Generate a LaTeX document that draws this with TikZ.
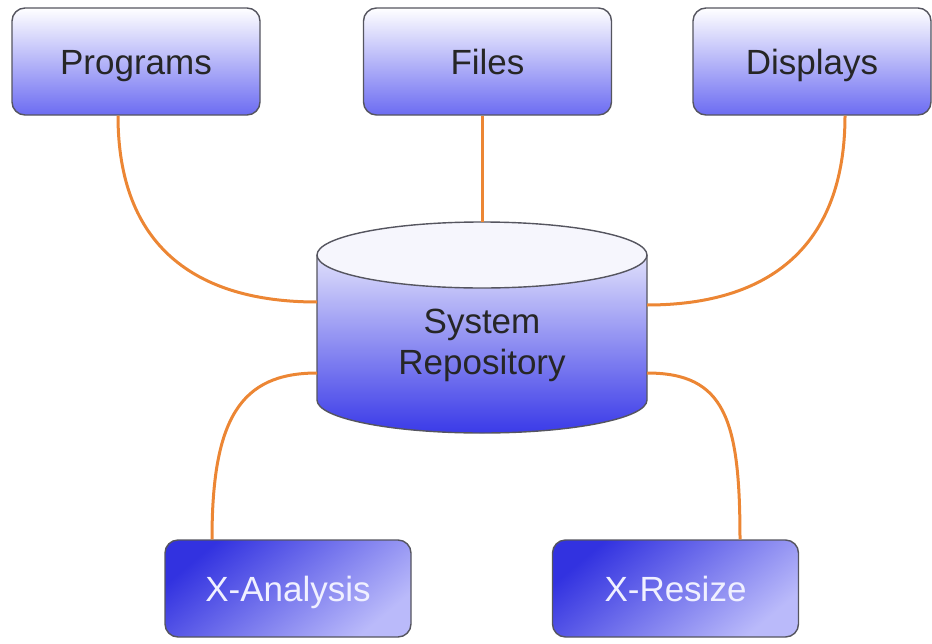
\documentclass[tikz,border=0pt]{standalone}
\usepackage{fontspec}
\setmainfont{Liberation Sans}
\definecolor{boxblue}{RGB}{108,108,242}
\definecolor{cylblue}{RGB}{58,58,232}
\definecolor{darkblue}{RGB}{50,50,224}
\definecolor{lightlav}{RGB}{186,186,250}
\definecolor{edge}{RGB}{85,85,95}
\definecolor{wire}{RGB}{236,134,52}
\definecolor{topend}{RGB}{246,246,253}
\begin{document}
\begin{tikzpicture}[x=1pt,y=1pt,
  topbox/.style={draw=edge, line width=1.4pt, rounded corners=13pt,
    top color=white, bottom color=boxblue, minimum width=248pt, minimum height=107pt,
    inner sep=0pt, text height=33pt, text depth=7pt,
    font=\fontsize{35}{40}\selectfont, text=black!85},
  botbox/.style={draw=edge, line width=1.4pt, rounded corners=13pt,
    top color=darkblue, bottom color=lightlav, shading angle=40,
    minimum width=246pt, minimum height=97pt,
    inner sep=0pt, text height=33pt, text depth=7pt,
    font=\fontsize{35}{40}\selectfont, text=white!94!blue},
  wireline/.style={draw=wire, line width=3pt},
  cylline/.style={draw=edge, line width=1.4pt}]
\useasboundingbox (0,0) rectangle (932,-643);
% top boxes
\node[topbox] (prog) at (136,-61.5) {Programs};
\node[topbox] (files) at (487.5,-61.5) {Files};
\node[topbox, minimum width=238pt] (disp) at (812,-61.5) {Displays};
% bottom boxes
\node[botbox] (xan) at (288,-588.5) {X-Analysis};
\node[botbox] (xre) at (675.5,-588.5) {X-Resize};
% cylinder
\shade[top color=white, bottom color=cylblue] (317,-255) -- (317,-400)
  arc[start angle=180, end angle=360, x radius=165, y radius=33]
  -- (647,-255) arc[start angle=0, end angle=180, x radius=165, y radius=33] -- cycle;
\draw[cylline] (317,-255) -- (317,-400)
  arc[start angle=180, end angle=360, x radius=165, y radius=33] -- (647,-255);
\draw[cylline, fill=topend] (482,-255) ellipse[x radius=165, y radius=33];
\node[align=center, font=\fontsize{35}{41}\selectfont, text=black!85] (repo) at (482,-345) {System\\Repository};
\coordinate (cyltop) at (482,-222);
\coordinate (cylL1) at (317,-302);
\coordinate (cylR1) at (647,-305);
\coordinate (cylL2) at (317,-373);
\coordinate (cylR2) at (647,-373);
% connectors
\draw[wireline] ([xshift=-18pt]prog.south) .. controls ([xshift=-18pt,yshift=-130pt]prog.south) and (195,-302) .. (cylL1);
\draw[wireline] (files.south -| cyltop) -- (cyltop);
\draw[wireline] ([xshift=33pt]disp.south) .. controls ([xshift=33pt,yshift=-130pt]disp.south) and (770,-305) .. (cylR1);
\draw[wireline] (cylL2) .. controls (240,-373) and ([xshift=-76pt,yshift=120pt]xan.north) .. ([xshift=-76pt]xan.north);
\draw[wireline] (cylR2) .. controls (725,-373) and ([xshift=64.5pt,yshift=120pt]xre.north) .. ([xshift=64.5pt]xre.north);
\end{tikzpicture}
\end{document}
